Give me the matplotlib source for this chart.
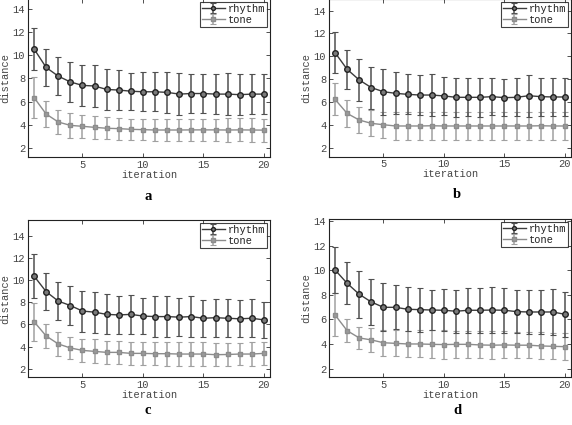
import numpy as np
import matplotlib
matplotlib.use('Agg')
import matplotlib.pyplot as plt

plt.rcParams['font.family'] = ['Liberation Mono', 'DejaVu Sans Mono']

iterations = np.arange(1, 21)

# panel a
rhythm_a = [10.55, 8.95, 8.2, 7.7, 7.4, 7.35, 7.05, 7.0, 6.9, 6.85,
            6.85, 6.8, 6.65, 6.7, 6.7, 6.65, 6.65, 6.6, 6.65, 6.65]
rhythm_a_err = [1.8, 1.6, 1.65, 1.7, 1.8, 1.8, 1.75, 1.7, 1.6, 1.7,
                1.7, 1.75, 1.8, 1.7, 1.7, 1.75, 1.8, 1.75, 1.75, 1.75]
tone_a = [6.35, 4.93, 4.24, 3.95, 3.87, 3.78, 3.7, 3.67, 3.61, 3.58,
          3.55, 3.55, 3.55, 3.56, 3.56, 3.56, 3.55, 3.56, 3.55, 3.54]
tone_a_err = [1.8, 1.1, 1.0, 1.05, 1.0, 1.0, 0.95, 0.95, 0.9, 0.92,
              0.95, 0.95, 0.95, 0.97, 0.97, 0.97, 1.02, 1.0, 1.0, 1.0]

# panel b
rhythm_b = [10.32, 8.86, 7.93, 7.26, 6.9, 6.76, 6.67, 6.61, 6.61, 6.53,
            6.41, 6.41, 6.41, 6.47, 6.38, 6.41, 6.55, 6.47, 6.44, 6.44]
rhythm_b_err = [1.8, 1.72, 1.84, 1.84, 2.0, 1.84, 1.75, 1.76, 1.8, 1.67,
                1.72, 1.66, 1.72, 1.6, 1.62, 1.66, 1.82, 1.66, 1.63, 1.69]
tone_b = [6.23, 5.0, 4.42, 4.13, 4.01, 3.9, 3.9, 3.9, 3.92, 3.9,
          3.9, 3.9, 3.9, 3.9, 3.9, 3.9, 3.9, 3.92, 3.9, 3.9]
tone_b_err = [1.4, 1.15, 1.1, 1.15, 1.15, 1.2, 1.2, 1.2, 1.22, 1.2,
              1.22, 1.2, 1.2, 1.22, 1.22, 1.2, 1.22, 1.22, 1.2, 1.2]

# panel c
rhythm_c = [10.36, 8.95, 8.1, 7.7, 7.2, 7.1, 6.9, 6.85, 6.9, 6.75,
            6.7, 6.7, 6.65, 6.7, 6.55, 6.6, 6.55, 6.5, 6.55, 6.4]
rhythm_c_err = [2.0, 1.65, 1.75, 1.8, 1.85, 1.85, 1.8, 1.75, 1.75, 1.65,
                1.85, 1.85, 1.7, 1.85, 1.65, 1.7, 1.7, 1.67, 1.7, 1.65]
tone_c = [6.24, 4.95, 4.23, 3.87, 3.65, 3.56, 3.47, 3.47, 3.38, 3.38,
          3.35, 3.35, 3.32, 3.32, 3.32, 3.26, 3.28, 3.32, 3.32, 3.38]
tone_c_err = [1.7, 1.1, 1.1, 1.0, 1.05, 1.08, 1.03, 1.05, 1.07, 1.07,
              1.05, 1.07, 1.08, 1.08, 1.05, 1.05, 1.05, 1.03, 1.05, 1.07]

# panel d
rhythm_d = [10.02, 8.93, 8.04, 7.41, 6.98, 6.98, 6.82, 6.79, 6.76, 6.74,
            6.66, 6.74, 6.74, 6.76, 6.74, 6.63, 6.6, 6.6, 6.6, 6.41]
rhythm_d_err = [1.85, 1.7, 1.9, 1.85, 1.95, 1.8, 1.8, 1.8, 1.65, 1.7,
                1.75, 1.85, 1.85, 1.85, 1.85, 1.75, 1.75, 1.8, 1.85, 1.85]
tone_d = [6.36, 5.08, 4.49, 4.33, 4.1, 4.05, 4.0, 4.0, 3.97, 3.95,
          3.97, 3.97, 3.92, 3.9, 3.92, 3.9, 3.9, 3.84, 3.81, 3.78]
tone_d_err = [1.75, 0.95, 0.9, 0.95, 1.05, 1.05, 1.05, 1.1, 1.15, 1.15,
              1.1, 1.1, 1.1, 1.15, 1.1, 1.05, 1.05, 1.1, 1.05, 1.1]

panel_letters = ['a', 'b', 'c', 'd']

W, H = 572, 425
fig = plt.figure(figsize=(W / 100, H / 100), dpi=100)

# pixel boxes (left, right, top, bottom) and y limits per panel
boxes = [(28, 270, -1, 157), (329, 571, -1, 156.7),
         (28, 270, 220, 377.3), (329, 571, 219, 377.3)]
ylims = [(1.22, 14.86), (1.21, 15.02), (1.22, 15.42), (1.29, 14.16)]
letter_pos = [(148, 197), (457, 195), (148, 411), (457, 411)]

panels = [
    (rhythm_a, rhythm_a_err, tone_a, tone_a_err),
    (rhythm_b, rhythm_b_err, tone_b, tone_b_err),
    (rhythm_c, rhythm_c_err, tone_c, tone_c_err),
    (rhythm_d, rhythm_d_err, tone_d, tone_d_err),
]

dark = '#3c3c3c'
dark_err = '#505050'
light = '#8c8c8c'
light_err = '#a0a0a0'
txt = '#444444'

for i, (r, r_err, t, t_err) in enumerate(panels):
    l, rgt, top, bot = boxes[i]
    ax = fig.add_axes([l / W, 1 - bot / H, (rgt - l) / W, (bot - top) / H])

    ax.errorbar(iterations, t, yerr=t_err, color=light, ecolor=light_err,
                elinewidth=1.1, capsize=2, capthick=0.8, lw=1.0,
                marker='s', ms=3.5, mfc='#9a9a9a', mec=light, label='tone')
    ax.errorbar(iterations, r, yerr=r_err, color=dark, ecolor=dark_err,
                elinewidth=1.1, capsize=2, capthick=0.8, lw=1.0,
                marker='o', ms=4, mfc='#7a7a7a', mec='#222222', label='rhythm')

    ax.set_xlim(0.5, 20.5)
    ax.set_ylim(*ylims[i])
    ax.set_xticks([5, 10, 15, 20])
    ax.set_yticks([2, 4, 6, 8, 10, 12, 14])
    ax.tick_params(direction='in', length=3, width=0.6, labelsize=7.5,
                   top=True, right=True, pad=2, colors='#333333',
                   labelcolor=txt)
    for s in ax.spines.values():
        s.set_linewidth(0.8)
        s.set_color('#222222')
    ax.set_xlabel('iteration', fontsize=7.5, labelpad=0, color=txt)
    ax.set_ylabel('distance', fontsize=7.5, labelpad=2, color=txt)

    handles, labels = ax.get_legend_handles_labels()
    leg = ax.legend(handles[::-1], labels[::-1], loc='upper right',
                    fontsize=7.5, frameon=True, fancybox=False,
                    borderaxespad=0.25, borderpad=0.2, labelspacing=0.1,
                    handlelength=2.2, handletextpad=0.3, markerscale=0.7)
    leg.get_frame().set_edgecolor('#111111')
    leg.get_frame().set_linewidth(0.8)
    for tx in leg.get_texts():
        tx.set_color('#222222')

    lx, ly = letter_pos[i]
    fig.text(lx / W, 1 - ly / H, panel_letters[i], ha='center', va='center',
             fontsize=10.5, fontweight='bold',
             family=['Liberation Serif', 'DejaVu Serif'])

fig.savefig('out.png', dpi=100)
